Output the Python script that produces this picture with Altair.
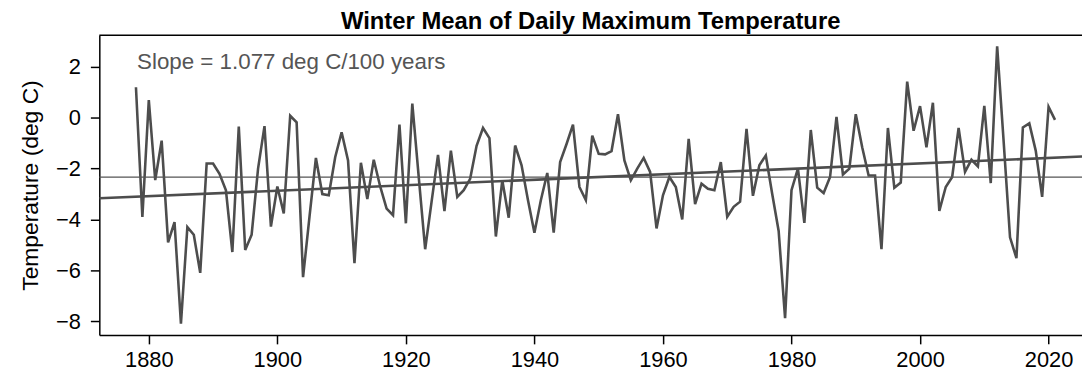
import altair as alt
import pandas as pd

years = list(range(1878, 2022))
temps = [
    1.2, -3.9, 0.7, -2.45, -0.9, -4.9, -4.1, -8.1, -4.3, -4.6,
    -6.1, -1.8, -1.8, -2.2, -2.85, -5.28, -0.35, -5.2, -4.6, -2.0,
    -0.33, -4.28, -2.7, -3.76, 0.08, -0.18, -6.27, -3.9, -1.58, -3.0,
    -3.05, -1.55, -0.57, -1.68, -5.72, -1.77, -3.2, -1.65, -2.7, -3.57,
    -3.83, -0.27, -4.15, 0.56, -2.33, -5.17, -3.3, -1.46, -3.67, -1.29,
    -3.11, -2.85, -2.4, -1.1, -0.4, -0.8, -4.67, -2.46, -3.93, -1.09,
    -1.87, -3.24, -4.52, -3.24, -2.17, -4.52, -1.74, -1.03, -0.27, -2.72,
    -3.24, -0.7, -1.42, -1.44, -1.31, 0.14, -1.68, -2.46, -2.0, -1.58,
    -2.13, -4.35, -3.05, -2.33, -2.72, -4.0, -0.83, -3.4, -2.59, -2.79,
    -2.85, -1.74, -3.89, -3.5, -3.3, -0.44, -3.07, -1.87, -1.48, -3.0,
    -4.45, -7.88, -2.85, -2.0, -4.13, -0.48, -2.75, -2.96, -2.33, 0.04,
    -2.23, -2.0, 0.14, -1.16, -2.27, -2.27, -5.17, -0.4, -2.75, -2.55,
    1.42, -0.51, 0.46, -1.16, 0.59, -3.66, -2.72, -2.33, -0.4, -2.13,
    -1.65, -1.91, 0.47, -2.57, 2.81, -0.9, -4.7, -5.52, -0.38, -0.22,
    -1.29, -3.11, 0.43, -0.08,
]
x_ticks = [1880, 1900, 1920, 1940, 1960, 1980, 2000, 2020]
y_ticks = [-8, -6, -4, -2, 0, 2]
title_text = "Winter Mean of Daily Maximum Temperature"
y_title = "Temperature (deg C)"
slope_label = "Slope = 1.077 deg C/100 years"

df = pd.DataFrame({"year": years, "temp": temps})

FONT = "Liberation Sans"
X_DOMAIN = [1872.3, 2025.2]
Y_DOMAIN = [-8.54, 3.25]
W, H = 990, 302

xs = alt.Scale(domain=X_DOMAIN, nice=False, zero=False)
ys = alt.Scale(domain=Y_DOMAIN, nice=False, zero=False)

base = alt.Chart(df)

series = base.mark_line(color="#4d4d4d", strokeWidth=2.6, clip=True).encode(
    x=alt.X("year:Q", scale=xs,
            axis=alt.Axis(values=x_ticks, format="d", title=None)),
    y=alt.Y("temp:Q", scale=ys,
            axis=alt.Axis(values=y_ticks, title=y_title)),
)

mean_rule = base.mark_rule(color="#555555", strokeWidth=1.3).encode(
    y=alt.Y("mean(temp):Q", scale=ys)
)

trend = base.transform_regression(
    "year", "temp", extent=X_DOMAIN
).mark_line(color="#4d4d4d", strokeWidth=2.6, clip=True).encode(
    x=alt.X("year:Q", scale=xs),
    y=alt.Y("temp:Q", scale=ys),
)

annot = alt.Chart(pd.DataFrame({"t": [slope_label]})).mark_text(
    align="left", baseline="middle", font=FONT, fontSize=22.5, color="#555555"
).encode(text="t:N", x=alt.value(38), y=alt.value(27))

top_frame = alt.Chart(pd.DataFrame({"a": [0]})).mark_rule(
    color="black", strokeWidth=1.5
).encode(x=alt.value(0), x2=alt.value(W), y=alt.value(0))

chart = alt.layer(series, mean_rule, trend, annot, top_frame).properties(
    width=W,
    height=H,
    title=alt.TitleParams(title_text, font=FONT, fontSize=24, fontWeight="bold",
                          color="black", anchor="middle", offset=0),
    autosize=alt.AutoSizeParams(type="none"),
    padding={"left": 92, "top": 26, "right": 0, "bottom": 36},
).configure_view(stroke=None).configure_axis(
    grid=False,
    domainColor="black",
    domainWidth=1.5,
    tickColor="black",
    tickWidth=1.5,
    labelColor="black",
    labelFont=FONT,
    labelFontSize=22,
    titleFont=FONT,
    titleFontSize=23,
    titleFontWeight="normal",
    titleColor="black",
).configure_axisX(
    tickSize=9, labelPadding=6
).configure_axisY(
    tickSize=9, labelPadding=10, titlePadding=13
)

chart.save("out.html", embed_options={"renderer": "svg", "actions": False})
